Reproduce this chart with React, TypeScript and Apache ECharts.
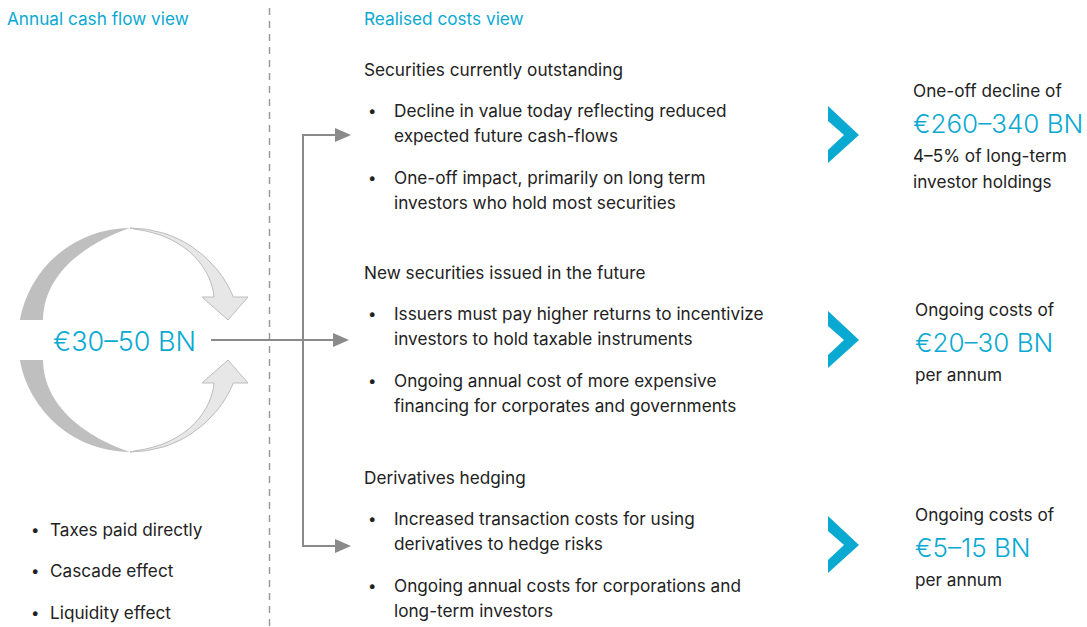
import React, { useEffect, useRef } from "react";
import * as echarts from "echarts";

// ---- content ----
const leftHeader = "Annual cash flow view";
const rightHeader = "Realised costs view";
const annualValue = "€30–50 BN";
const leftBullets = ["Taxes paid directly", "Cascade effect", "Liquidity effect"];
const sectionTitles = [
  "Securities currently outstanding",
  "New securities issued in the future",
  "Derivatives hedging",
];
const sectionBullets = [
  [
    ["Decline in value today reflecting reduced", "expected future cash-flows"],
    ["One-off impact, primarily on long term", "investors who hold most securities"],
  ],
  [
    ["Issuers must pay higher returns to incentivize", "investors to hold taxable instruments"],
    ["Ongoing annual cost of more expensive", "financing for corporates and governments"],
  ],
  [
    ["Increased transaction costs for using", "derivatives to hedge risks"],
    ["Ongoing annual costs for corporations and", "long-term investors"],
  ],
];
const resultLeads = ["One-off decline of", "Ongoing costs of", "Ongoing costs of"];
const resultValues = ["€260–340 BN", "€20–30 BN", "€5–15 BN"];
const resultNotes = [["4–5% of long-term", "investor holdings"], ["per annum"], ["per annum"]];

// ---- layout & style ----
const CYAN = "#0aa9d2";
const DARK = "#222222";
const GREY = "#8a8a8a";
const FONT = "Inter, Lato, sans-serif";
const BODY = 17.2;
const sectionY = [69, 272, 477];
const bulletOffsets = [41, 108];
const lineH = 25.5;
const resultY = [90, 309, 514];
const chevronY = [135, 340, 545];

const shapes: Record<string, string> = {
  cycDarkTop: "M19.8 320 A112 112 0 0 1 130 228 C95 240 44 268 43 320 Z",
  cycLightTop:
    "M130 228 A112 112 0 0 1 233.4 297 L248 297 L228 320 L202 297 L214 297 C212 272 190 236 134 229 Z",
  cycDarkBottom: "M19.8 360 A112 112 0 0 0 130 452 C95 440 44 412 43 360 Z",
  cycLightBottom:
    "M130 452 A112 112 0 0 0 233.4 383 L248 383 L228 360 L202 383 L214 383 C212 408 190 444 134 451 Z",
};
Object.keys(shapes).forEach((k) =>
  echarts.graphic.registerShape(k, echarts.graphic.extendPath(shapes[k], {}))
);

function txt(x: number, y: number, text: string, size: number, color: string, weight = 400) {
  return {
    type: "text",
    x,
    y,
    silent: true,
    style: {
      text,
      font: `${weight} ${size}px ${FONT}`,
      fill: color,
      align: "left",
      verticalAlign: "middle",
      textAlign: "left",
      textVerticalAlign: "middle",
    },
  };
}

function arrowHead(tipX: number, y: number) {
  return {
    type: "polygon",
    shape: { points: [[tipX - 16, y - 7], [tipX, y], [tipX - 16, y + 7]] },
    style: { fill: GREY },
  };
}

export default function App() {
  const ref = useRef<HTMLDivElement>(null);
  useEffect(() => {
    if (!ref.current) return;
    const chart = echarts.init(ref.current, undefined, { renderer: "svg" });
    const els: any[] = [];

    els.push(txt(7, 18, leftHeader, BODY, CYAN));
    els.push(txt(364, 18, rightHeader, BODY, CYAN));
    els.push({
      type: "line",
      shape: { x1: 269.5, y1: 8, x2: 269.5, y2: 627 },
      style: { stroke: "#9a9a9a", lineWidth: 1.5, lineDash: [7, 6] },
    });

    // cycle arrows (twisted ribbon: darker back, lighter front)
    els.push({ type: "cycDarkTop", x: 0, y: 0, style: { fill: "#bfbfbf" } });
    els.push({ type: "cycDarkBottom", x: 0, y: 0, style: { fill: "#bfbfbf" } });
    els.push({ type: "cycLightTop", x: 0, y: 0, style: { fill: "#e7e7e7", stroke: "#bdbdbd", lineWidth: 1 } });
    els.push({ type: "cycLightBottom", x: 0, y: 0, style: { fill: "#e7e7e7", stroke: "#bdbdbd", lineWidth: 1 } });
    els.push(txt(53, 341, annualValue, 27, CYAN, 300));

    // arrows
    els.push({ type: "line", shape: { x1: 211, y1: 340, x2: 334, y2: 340 }, style: { stroke: GREY, lineWidth: 2 } });
    els.push(arrowHead(349, 340));
    els.push({
      type: "polyline",
      shape: { points: [[336, 135], [303, 135], [303, 546], [336, 546]] },
      style: { stroke: GREY, lineWidth: 2, fill: null },
    });
    els.push(arrowHead(351, 135));
    els.push(arrowHead(351, 546));

    // left bullets
    leftBullets.forEach((b, i) => {
      const y = 529 + i * 41.5;
      els.push(txt(31, y, "•", 15, DARK));
      els.push(txt(50, y, b, BODY, DARK));
    });

    // sections
    sectionTitles.forEach((t, s) => {
      const ty = sectionY[s];
      els.push(txt(364, ty, t, BODY, DARK));
      sectionBullets[s].forEach((lines, b) => {
        const by = ty + bulletOffsets[b];
        els.push(txt(368, by, "•", 15, DARK));
        lines.forEach((ln, k) => els.push(txt(394, by + k * lineH, ln, BODY, DARK)));
      });
      // chevron
      const cy = chevronY[s];
      els.push({
        type: "polygon",
        shape: {
          points: [
            [828, cy - 29],
            [859, cy],
            [828, cy + 28],
            [828, cy + 15],
            [844, cy],
            [828, cy - 14],
          ],
        },
        style: { fill: CYAN },
      });
      // result block
      const ry = resultY[s];
      const rx = s === 0 ? 913 : 915;
      els.push(txt(rx, ry, resultLeads[s], BODY, DARK));
      els.push(txt(rx, ry + 33, resultValues[s], 26, CYAN, 300));
      resultNotes[s].forEach((n, k) => els.push(txt(rx, ry + 65 + k * 26, n, BODY, DARK)));
    });

    chart.setOption({
      animation: false,
      backgroundColor: "#ffffff",
      graphic: { elements: els },
    });
    return () => chart.dispose();
  }, []);
  return (
    <div
      ref={ref}
      style={{ position: "fixed", left: 0, top: 0, width: 1087, height: 627, background: "#fff" }}
    />
  );
}
